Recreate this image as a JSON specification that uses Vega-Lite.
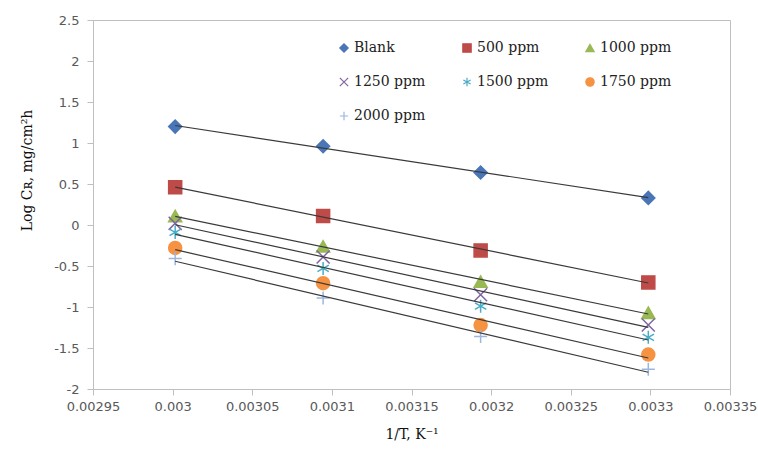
{
  "$schema": "https://vega.github.io/schema/vega-lite/v6.json",
  "width": 637,
  "height": 369,
  "autosize": {"type": "none"},
  "padding": {"left": 93, "top": 20, "right": 28, "bottom": 67},
  "background": "white",
  "config": {
    "view": {"stroke": "#bfbfbf", "strokeWidth": 1},
    "axis": {"grid": false, "domainColor": "#bfbfbf", "tickColor": "#bfbfbf", "tickSize": 6, "labelFont": "DejaVu Sans", "labelFontSize": 13, "labelColor": "#595959", "labelOverlap": false, "labelBound": false, "labelFlush": false, "titleFont": "DejaVu Serif", "titleFontSize": 14, "titleFontWeight": "normal", "titleColor": "#111111"}
  },
  "data": {
    "values": [
      {"x": 0.0030016, "y": 1.2, "s": "Blank"},
      {"x": 0.0030945, "y": 0.96, "s": "Blank"},
      {"x": 0.0031934, "y": 0.64, "s": "Blank"},
      {"x": 0.0032987, "y": 0.33, "s": "Blank"},
      {"x": 0.0030016, "y": 0.46, "s": "500 ppm"},
      {"x": 0.0030945, "y": 0.11, "s": "500 ppm"},
      {"x": 0.0031934, "y": -0.31, "s": "500 ppm"},
      {"x": 0.0032987, "y": -0.7, "s": "500 ppm"},
      {"x": 0.0030016, "y": 0.11, "s": "1000 ppm"},
      {"x": 0.0030945, "y": -0.26, "s": "1000 ppm"},
      {"x": 0.0031934, "y": -0.69, "s": "1000 ppm"},
      {"x": 0.0032987, "y": -1.07, "s": "1000 ppm"},
      {"x": 0.0030016, "y": 0.02, "s": "1250 ppm"},
      {"x": 0.0030945, "y": -0.39, "s": "1250 ppm"},
      {"x": 0.0031934, "y": -0.85, "s": "1250 ppm"},
      {"x": 0.0032987, "y": -1.22, "s": "1250 ppm"},
      {"x": 0.0030016, "y": -0.09, "s": "1500 ppm"},
      {"x": 0.0030945, "y": -0.53, "s": "1500 ppm"},
      {"x": 0.0031934, "y": -0.99, "s": "1500 ppm"},
      {"x": 0.0032987, "y": -1.37, "s": "1500 ppm"},
      {"x": 0.0030016, "y": -0.28, "s": "1750 ppm"},
      {"x": 0.0030945, "y": -0.71, "s": "1750 ppm"},
      {"x": 0.0031934, "y": -1.22, "s": "1750 ppm"},
      {"x": 0.0032987, "y": -1.58, "s": "1750 ppm"},
      {"x": 0.0030016, "y": -0.41, "s": "2000 ppm"},
      {"x": 0.0030945, "y": -0.89, "s": "2000 ppm"},
      {"x": 0.0031934, "y": -1.36, "s": "2000 ppm"},
      {"x": 0.0032987, "y": -1.76, "s": "2000 ppm"}
    ]
  },
  "layer": [
    {
      "mark": {"type": "point", "size": 170, "strokeWidth": 1.5, "opacity": 1},
      "encoding": {
        "x": {"field": "x", "type": "quantitative", "scale": {"domain": [0.00295, 0.00335], "zero": false, "nice": false},
          "axis": {"values": [0.00295, 0.003, 0.00305, 0.0031, 0.00315, 0.0032, 0.00325, 0.0033, 0.00335], "format": "~g", "labelPadding": 5, "title": "1/T, K⁻¹", "titlePadding": 14}},
        "y": {"field": "y", "type": "quantitative", "scale": {"domain": [-2, 2.5], "nice": false, "zero": false},
          "axis": {"values": [-2, -1.5, -1, -0.5, 0, 0.5, 1, 1.5, 2, 2.5], "labelExpr": "datum.value < 0 ? '-' + format(-datum.value, '~g') : format(datum.value, '~g')", "labelPadding": 8, "title": "Log Cʀ, mg/cm²h", "titleX": -66, "titleY": 150, "titleAngle": -90, "titleAlign": "center", "titleBaseline": "middle"}},
        "shape": {"field": "s", "type": "nominal", "title": null,
          "scale": {"domain": ["Blank", "500 ppm", "1000 ppm", "1250 ppm", "1500 ppm", "1750 ppm", "2000 ppm"],
            "range": ["diamond", "square", "triangle-up", "M-1,-1L1,1M-1,1L1,-1", "M0,-1L0,1M-0.87,-0.5L0.87,0.5M-0.87,0.5L0.87,-0.5", "circle", "M-1,0L1,0M0,-1L0,1"]}},
        "fill": {"field": "s", "type": "nominal", "title": null,
          "scale": {"domain": ["Blank", "500 ppm", "1000 ppm", "1250 ppm", "1500 ppm", "1750 ppm", "2000 ppm"],
            "range": ["#4a76b8", "#be4b48", "#98b954", "#8064a2", "#4bacc6", "#f59343", "#9db6e0"]}},
        "stroke": {"field": "s", "type": "nominal", "title": null,
          "scale": {"domain": ["Blank", "500 ppm", "1000 ppm", "1250 ppm", "1500 ppm", "1750 ppm", "2000 ppm"],
            "range": ["#4a76b8", "#be4b48", "#98b954", "#8064a2", "#4bacc6", "#f59343", "#9db6e0"]},
          "legend": {"orient": "none", "direction": "horizontal", "legendX": 244, "legendY": 21, "columns": 3, "columnPadding": 34, "rowPadding": 20, "symbolSize": 70, "symbolStrokeWidth": 1.2, "labelFont": "DejaVu Serif", "labelFontSize": 14, "labelColor": "#222222", "labelOffset": 3}}
      }
    },
    {
      "transform": [{"regression": "y", "on": "x", "groupby": ["s"]}],
      "mark": {"type": "line", "color": "#3a3a3a", "strokeWidth": 1.2},
      "encoding": {
        "x": {"field": "x", "type": "quantitative"},
        "y": {"field": "y", "type": "quantitative"},
        "detail": {"field": "s", "type": "nominal"}
      }
    }
  ]
}
